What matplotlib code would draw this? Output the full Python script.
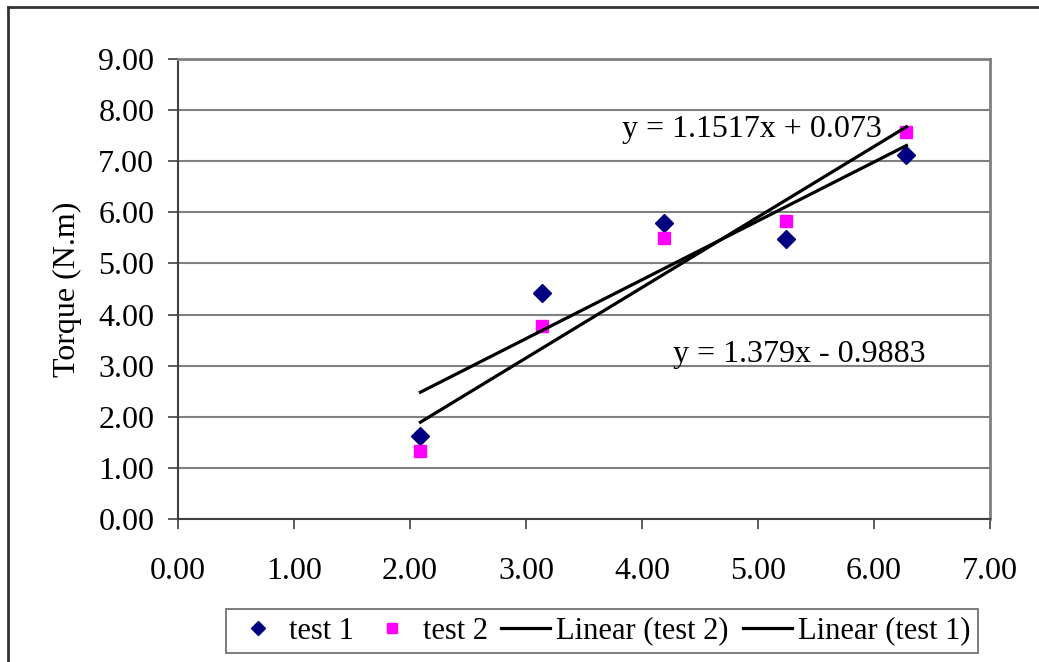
import numpy as np
import matplotlib.pyplot as plt
from matplotlib.lines import Line2D

plt.rcParams['font.family'] = ['Liberation Serif', 'DejaVu Serif']

# data
speed = [2.09, 3.14, 4.19, 5.24, 6.28]
torque_test1 = [1.63, 4.42, 5.80, 5.48, 7.12]
torque_test2 = [1.33, 3.77, 5.50, 5.82, 7.58]

# trendline coefficients as printed on the chart
fit_test1 = (1.1517, 0.073)
fit_test2 = (1.379, -0.9883)
label_test1 = 'y = 1.1517x + 0.073'
label_test2 = 'y = 1.379x - 0.9883'

x_ticks = np.arange(0, 8, 1)
y_ticks = np.arange(0, 10, 1)

fig = plt.figure(figsize=(10.39, 6.62), dpi=100)
ax = fig.add_axes([0.1713, 0.216, 0.7815, 0.695])

ax.set_xlim(0, 7)
ax.set_ylim(0, 9)
ax.set_xticks(x_ticks)
ax.set_yticks(y_ticks)
ax.set_xticklabels(['%.2f' % v for v in x_ticks])
ax.set_yticklabels(['%.2f' % v for v in y_ticks])
ax.tick_params(axis='both', labelsize=23, direction='out', length=7, width=1.2, color='#404040')
ax.tick_params(axis='y', pad=10)
ax.tick_params(axis='x', pad=20)
ax.grid(axis='y', color='#808080', linewidth=1.5, zorder=0)
ax.set_axisbelow(True)

for side in ['left', 'bottom']:
    ax.spines[side].set_color('#404040')
    ax.spines[side].set_linewidth(1.5)
for side in ['top', 'right']:
    ax.spines[side].set_color('#808080')
    ax.spines[side].set_linewidth(2)

ax.set_ylabel('Torque (N.m)', fontsize=23, labelpad=12)

xs = np.array([speed[0], speed[-1]])
ax.plot(speed, torque_test1, linestyle='none', marker='D', markersize=9,
        color='#000080', label='test 1', zorder=3)
ax.plot(speed, torque_test2, linestyle='none', marker='s', markersize=9,
        color='#ff00ff', label='test 2', zorder=3)
ax.plot(xs, fit_test2[0] * xs + fit_test2[1], color='black', linewidth=2.3,
        label='Linear (test 2)', zorder=4)
ax.plot(xs, fit_test1[0] * xs + fit_test1[1], color='black', linewidth=2.3,
        label='Linear (test 1)', zorder=4)

ax.text(3.83, 7.62, label_test1, fontsize=23, va='center', ha='left')
ax.text(4.27, 3.22, label_test2, fontsize=23, va='center', ha='left')

leg = fig.legend(loc='center', bbox_to_anchor=(0.5794, 0.0468), ncol=4,
                 fontsize=22, frameon=True, fancybox=False, edgecolor='#404040',
                 handlelength=1.6, handletextpad=0.2, columnspacing=0.45,
                 borderpad=0.25, borderaxespad=0, markerscale=0.75)
leg.get_frame().set_linewidth(1.2)

# outer chart frame (top and left edges visible)
fig.add_artist(Line2D([8 / 1039, 1], [1 - 7 / 662, 1 - 7 / 662],
                      color='#333333', linewidth=2, transform=fig.transFigure))
fig.add_artist(Line2D([8 / 1039, 8 / 1039], [0, 1 - 7 / 662],
                      color='#333333', linewidth=2, transform=fig.transFigure))

fig.savefig('out.png', dpi=100)
